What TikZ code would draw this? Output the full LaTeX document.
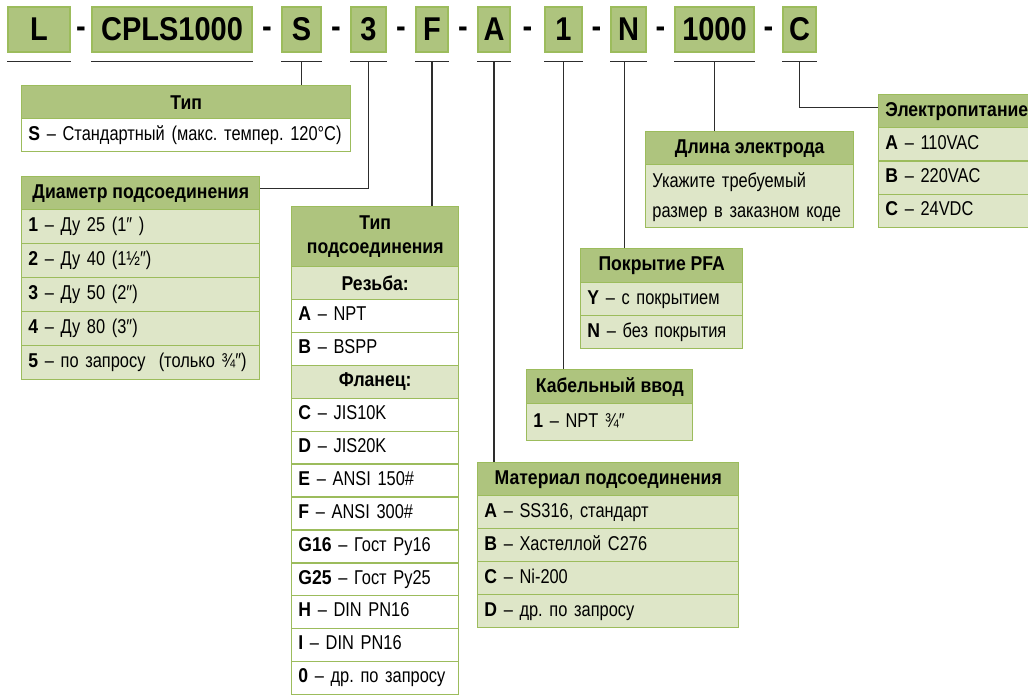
\documentclass[tikz,border=0pt]{standalone}
\usepackage{fontspec}
\setmainfont{Liberation Sans}[UprightFeatures={FakeStretch=0.82}, BoldFeatures={FakeStretch=0.88}]
\usetikzlibrary{calc}
\frenchspacing

\definecolor{hdrgreen}{RGB}{174,196,126}
\definecolor{rowgreen}{RGB}{222,230,200}
\definecolor{edgegreen}{RGB}{156,188,92}
\definecolor{wiregray}{RGB}{45,45,45}

\def\px{0.75pt} % one pixel of the layout

\tikzset{
  codebox/.style={fill=hdrgreen, draw=edgegreen, line width=1pt, inner sep=0pt,
    minimum height=45*\px, font=\fontsize{24.7}{26}\selectfont\bfseries},
  dashmark/.style={inner sep=0pt, font=\fontsize{24.7}{26}\selectfont\bfseries},
  uline/.style={draw=wiregray, line width=1pt},
  wire/.style={draw=wiregray, line width=1pt},
  hdr/.style={fill=hdrgreen, draw=edgegreen, line width=1.1pt, inner sep=0pt,
    anchor=north west, align=center, font=\fontsize{15}{18}\selectfont\bfseries},
  sub/.style={hdr, fill=rowgreen},
  cell/.style={draw=edgegreen, line width=1.1pt, inner xsep=5pt, inner ysep=0pt,
    anchor=north west, align=left, font=\fontsize{15}{18}\selectfont,
    execute at begin node=\strut}
}

\begin{document}
\begin{tikzpicture}[x=\px, y=-\px]
  \useasboundingbox (0,0) rectangle (1028,695);
  \clip (0,0) rectangle (1028,695);

  % order code
  \foreach \nm/\cx/\w/\t in {cL/39/62/L, cBase/172/160/CPLS1000, cS/301.5/39/S,
      cD/368.5/35/3, cF/432/32/F, cA/494/32/A, cK/563.5/37/1, cN/628.5/35/N,
      cLen/714.5/79/1000, cP/799.5/33/C}
  {
    \node[codebox, minimum width=\w*\px] (\nm) at (\cx,29.5) {\t};
    \coordinate (u\nm) at ([yshift=-9*\px]\nm.south);
    \draw[uline] ([yshift=-9*\px]\nm.south west) -- ([yshift=-9*\px]\nm.south east);
  }
  \foreach \a/\b in {cL/cBase, cBase/cS, cS/cD, cD/cF, cF/cA, cA/cK, cK/cN, cN/cLen, cLen/cP}
    \node[dashmark, yshift=-3*\px] (h\a) at ($(\a.east)!.5!(\b.west)$) {-};

  % type
  \node[hdr, minimum width=329*\px, minimum height=33*\px] (tipHd) at (21,85) {Тип};
  \node[cell, fill=white, minimum height=33*\px, text width=329*\px-10pt] (tipS) at (21,118)
    {\textbf{S} – Стандартный (макс. темпер. 120°C)};

  % diameter
  \node[hdr, minimum width=238*\px, minimum height=33*\px] (diamHd) at (21,176) {Диаметр подсоединения};
  \foreach \k/\t [count=\i from 0] in {1/Ду 25 (1″\ ), 2/Ду 40 (1½″), 3/Ду 50 (2″),
      4/Ду 80 (3″), 5/по запросу\ \ (только ¾″)}
    \node[cell, fill=rowgreen, minimum height=34*\px, text width=238*\px-10pt] (diam\k)
      at (21,209+34*\i) {\textbf{\k} – \t};

  % connection type
  \node[hdr, minimum width=167*\px, minimum height=60*\px] (podHd) at (291,206) {Тип\\подсоединения};
  \node[sub, minimum width=167*\px, minimum height=32.9*\px] (podThr) at (291,266) {Резьба:};
  \foreach \k/\t [count=\i from 1] in {A/NPT, B/BSPP}
    \node[cell, fill=white, minimum height=32.9*\px, text width=167*\px-10pt] (pod\k)
      at (291,266+32.9*\i) {\textbf{\k} – \t};
  \node[sub, minimum width=167*\px, minimum height=32.9*\px] (podFl) at (291,266+32.9*3) {Фланец:};
  \foreach \k/\t [count=\i from 4] in {C/JIS10K, D/JIS20K, E/ANSI 150\#, F/ANSI 300\#,
      G16/Гост Ру16, G25/Гост Ру25, H/DIN PN16, I/DIN PN16, 0/др. по запросу}
    \node[cell, fill=white, minimum height=32.9*\px, text width=167*\px-10pt] (pod\k)
      at (291,266+32.9*\i) {\textbf{\k} – \t};

  % material
  \node[hdr, minimum width=261*\px, minimum height=33*\px] (matHd) at (477,462) {Материал подсоединения};
  \foreach \k/\t [count=\i from 0] in {A/SS316{,} стандарт, B/Хастеллой C276, C/Ni-200, D/др. по запросу}
    \node[cell, fill=rowgreen, minimum height=33*\px, text width=261*\px-10pt] (mat\k)
      at (477,495+33*\i) {\textbf{\k} – \t};

  % cable entry
  \node[hdr, minimum width=166*\px, minimum height=34*\px] (kabHd) at (526,369) {Кабельный ввод};
  \node[cell, fill=rowgreen, minimum height=37*\px, text width=166*\px-10pt] (kab1) at (526,403)
    {\textbf{1} – NPT ¾″};

  % PFA coating
  \node[hdr, minimum width=162*\px, minimum height=34*\px] (pfaHd) at (580,248) {Покрытие PFA};
  \foreach \k/\t [count=\i from 0] in {Y/с покрытием, N/без покрытия}
    \node[cell, fill=rowgreen, minimum height=33*\px, text width=162*\px-10pt] (pfa\k)
      at (580,282+33*\i) {\textbf{\k} – \t};

  % electrode length
  \node[hdr, minimum width=208*\px, minimum height=33*\px] (dlHd) at (645,131) {Длина электрода};
  \node[cell, fill=rowgreen, minimum height=63*\px, text width=208*\px-10pt] (dlTxt) at (645,164)
    {Укажите требуемый\\[4pt]размер в заказном коде};

  % power supply
  \node[cell, fill=hdrgreen, font=\fontsize{15}{18}\selectfont\bfseries, minimum height=33*\px,
    text width=180*\px-10pt] (powHd) at (878,94) {Электропитание};
  \foreach \k/\t [count=\i from 0] in {A/110VAC, B/220VAC, C/24VDC}
    \node[cell, fill=rowgreen, minimum height=33.3*\px, text width=180*\px-10pt] (pow\k)
      at (878,127+33.3*\i) {\textbf{\k} – \t};

  % connectors
  \draw[wire] (ucS) -- (ucS |- tipHd.north);
  \draw[wire] (ucD) |- ([yshift=5*\px]diamHd.east);
  \draw[wire] (ucF) -- (ucF |- podHd.north);
  \draw[wire] (ucA) -- (ucA |- matHd.north);
  \draw[wire] (ucK) -- (ucK |- kabHd.north);
  \draw[wire] ([xshift=-4*\px]ucN) -- ([xshift=-4*\px]ucN |- pfaHd.north);
  \draw[wire] (ucLen) -- (ucLen |- dlHd.north);
  \draw[wire] (ucP) |- ([yshift=4*\px]powHd.west);
\end{tikzpicture}
\end{document}
